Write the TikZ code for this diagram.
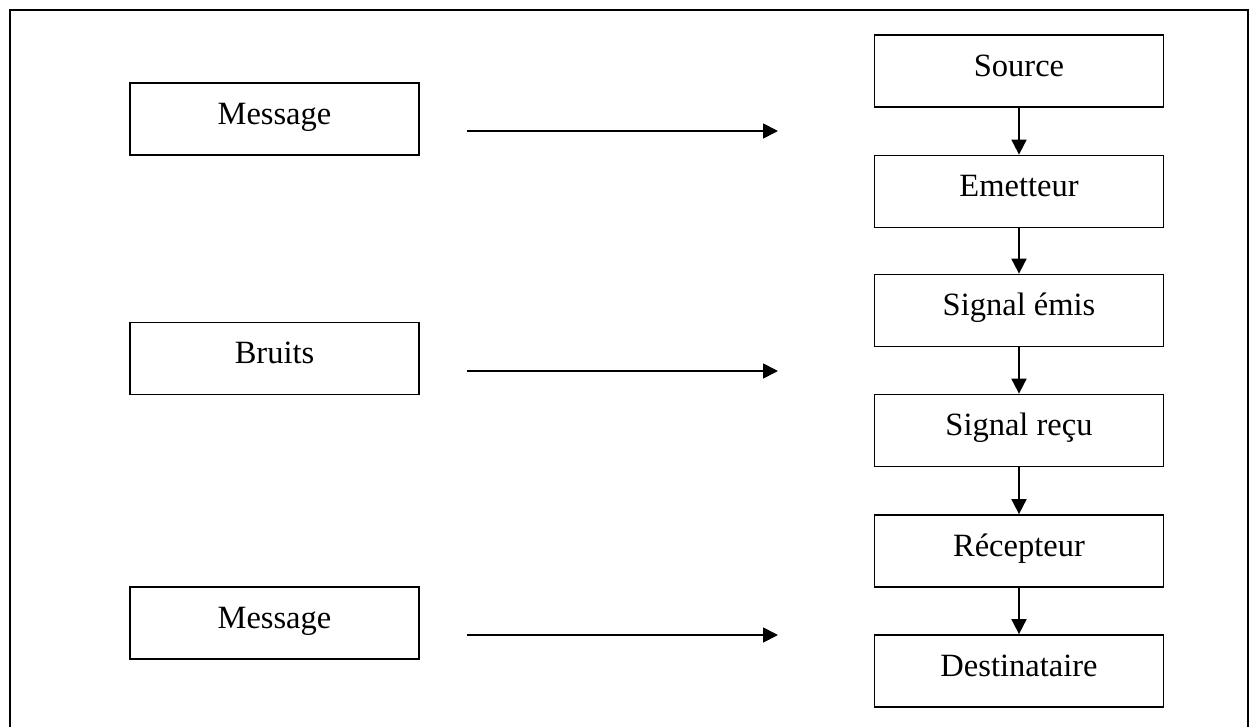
\documentclass[tikz,border=0pt]{standalone}
\usepackage{fontspec}
\setmainfont{Liberation Serif}
\usetikzlibrary{arrows.meta}
\begin{document}
\begin{tikzpicture}[x=0.02cm, y=-0.02cm,
  line width=1pt,
  blockbox/.style={draw, line width=1pt, minimum width=289*0.02cm, minimum height=72*0.02cm,
    inner sep=0pt, font=\fontsize{18.5}{22}\selectfont, text height=5.7pt, text depth=0pt},
  flow/.style={-{Triangle[length=8.5pt, width=8.5pt]}, line width=1pt}]
  \useasboundingbox (0,0) rectangle (1249,727);
  % open frame around the figure
  \draw[line width=1pt] (10,740) -- (10,10) -- (1248,10) -- (1248,740);

  % left column
  \node[blockbox] (msg1)   at (274.5,119)   {Message};
  \node[blockbox] (bruits) at (274.5,358.5) {Bruits};
  \node[blockbox] (msg2)   at (274.5,623)   {Message};

  % right column: communication chain
  \node[blockbox] (src)  at (1019,71)    {Source};
  \node[blockbox] (emet) at (1019,191.5) {Emetteur};
  \node[blockbox] (sige) at (1019,310.5) {Signal émis};
  \node[blockbox] (sigr) at (1019,430.5) {Signal reçu};
  \node[blockbox] (rec)  at (1019,551)   {Récepteur};
  \node[blockbox] (dest) at (1019,671)   {Destinataire};

  \foreach \a/\b in {src/emet, emet/sige, sige/sigr, sigr/rec, rec/dest}
    \draw[flow] (\a.south) -- (\b.north);

  % horizontal arrows between the columns
  \coordinate (a1s) at (467,131); \coordinate (a1e) at (778,131);
  \coordinate (a2s) at (467,371); \coordinate (a2e) at (778,371);
  \coordinate (a3s) at (467,635); \coordinate (a3e) at (778,635);
  \draw[flow] (a1s) -- (a1e);
  \draw[flow] (a2s) -- (a2e);
  \draw[flow] (a3s) -- (a3e);
\end{tikzpicture}
\end{document}
